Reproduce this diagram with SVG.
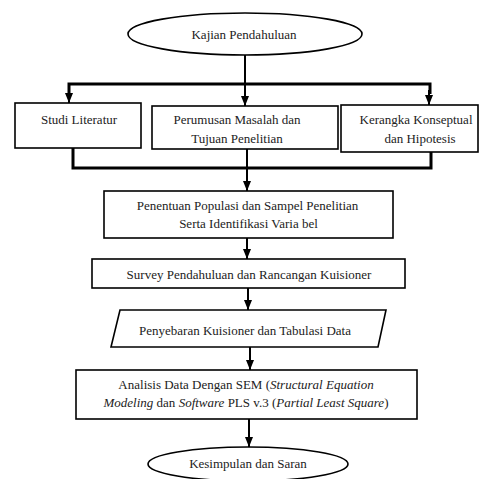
<svg xmlns="http://www.w3.org/2000/svg" width="481" height="479" viewBox="0 0 481 479">
<defs>
<marker id="ah" markerUnits="userSpaceOnUse" markerWidth="10" markerHeight="10" viewBox="0 0 10 10" refX="10" refY="5" orient="auto">
<path d="M0,1 L10,5 L0,9 z" fill="#000"/>
</marker>
</defs>
<style>
.n{fill:#fff;stroke:#000;stroke-width:1.6}
.t{font-family:"Liberation Serif","Times New Roman",serif;font-size:13px;fill:#222;text-anchor:middle}
.c{fill:none;stroke:#000;stroke-width:2}
.b{fill:none;stroke:#000;stroke-width:3}
.i{font-style:italic}
</style>
<rect width="481" height="479" fill="#fff"/>
<g id="connectors">
<line class="c" x1="245" y1="55" x2="245" y2="84"/>
<polyline class="b" points="69,94 69,84 430,84 430,94"/>
<line class="c" x1="69" y1="90" x2="69" y2="103" marker-end="url(#ah)"/>
<line class="c" x1="245" y1="84" x2="245" y2="106" marker-end="url(#ah)"/>
<line class="c" x1="429" y1="90" x2="429" y2="105" marker-end="url(#ah)"/>
<polyline class="b" points="73,148 73,168 431,168 431,152"/>
<line class="c" x1="247" y1="149" x2="247" y2="191" marker-end="url(#ah)"/>
<line class="c" x1="247" y1="238" x2="247" y2="259" marker-end="url(#ah)"/>
<line class="c" x1="248" y1="288" x2="248" y2="310" marker-end="url(#ah)"/>
<line class="c" x1="250" y1="347" x2="250" y2="370" marker-end="url(#ah)"/>
<line class="c" x1="249" y1="419" x2="249" y2="447" marker-end="url(#ah)"/>
</g>
<g id="kajian">
<ellipse class="n" cx="245" cy="34" rx="117" ry="21"/>
<text class="t" x="244" y="38.5">Kajian Pendahuluan</text>
</g>
<g id="studi">
<rect class="n" x="15" y="103" width="126" height="45"/>
<text class="t" x="79" y="123.5">Studi Literatur</text>
</g>
<g id="perumusan">
<rect class="n" x="152" y="106" width="186" height="43"/>
<text class="t" x="237" y="123.5">Perumusan Masalah dan</text>
<text class="t" x="237" y="142.5">Tujuan Penelitian</text>
</g>
<g id="kerangka">
<rect class="n" x="341" y="105" width="137" height="47"/>
<text class="t" x="416" y="123.5">Kerangka Konseptual</text>
<text class="t" x="420" y="143">dan Hipotesis</text>
</g>
<g id="penentuan">
<rect class="n" x="104" y="191" width="289" height="47"/>
<text class="t" x="247.5" y="209.5">Penentuan Populasi dan Sampel Penelitian</text>
<text class="t" x="248.5" y="227.5">Serta Identifikasi Varia bel</text>
</g>
<g id="survey">
<rect class="n" x="92" y="259" width="313" height="29"/>
<text class="t" x="249" y="278.5">Survey Pendahuluan dan Rancangan Kuisioner</text>
</g>
<g id="penyebaran">
<polygon class="n" points="120,310 386,310 378,347 111,347"/>
<text class="t" x="245" y="334.5">Penyebaran Kuisioner dan Tabulasi Data</text>
</g>
<g id="analisis">
<rect class="n" x="76" y="370" width="341" height="49"/>
<text class="t" x="246" y="389">Analisis Data Dengan SEM (<tspan class="i">Structural Equation</tspan></text>
<text class="t" x="246" y="407"><tspan class="i">Modeling</tspan> dan <tspan class="i">Software</tspan> PLS v.3 (<tspan class="i">Partial Least Square</tspan>)</text>
</g>
<g id="kesimpulan">
<ellipse class="n" cx="248" cy="464" rx="100" ry="17"/>
<text class="t" x="248" y="467.5">Kesimpulan dan Saran</text>
</g>
</svg>
